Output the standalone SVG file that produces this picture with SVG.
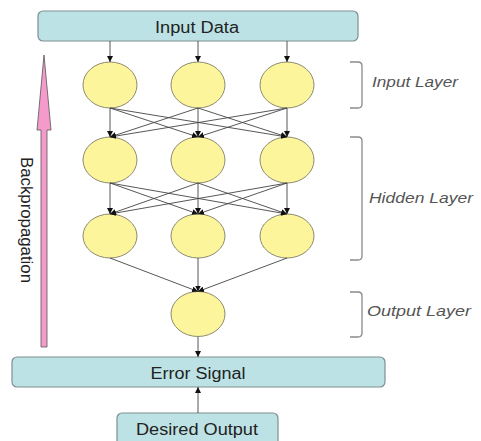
<svg xmlns="http://www.w3.org/2000/svg" width="481" height="441" viewBox="0 0 481 441">
<style>
.box{fill:#bde2e5;stroke:#7d8f92;stroke-width:1.2}
.node{fill:#fcf59b;stroke:#8c8a70;stroke-width:1}
.bt{font-family:"Liberation Sans",Arial,sans-serif;font-size:16px;fill:#222;text-anchor:middle}
.lt{font-family:"Liberation Sans",Arial,sans-serif;font-size:15px;font-style:italic;fill:#555}
.br{fill:none;stroke:#8a8a8a;stroke-width:1.3}
.cn line{stroke:#444;stroke-width:0.9;marker-end:url(#ah)}
</style>
<defs>
<marker id="ah" viewBox="0 0 10 10" refX="10" refY="5" markerWidth="6" markerHeight="6" markerUnits="userSpaceOnUse" orient="auto">
<path d="M0,0 L10,5 L0,10 z" fill="#111"/>
</marker>
</defs>
<rect width="481" height="441" fill="#fff"/>

<g id="backprop">
<path d="M44,55 L51,130 L47,130 L47,347 L41,347 L41,130 L37,130 Z" fill="#f59bcb" stroke="#555" stroke-width="0.8"/>
<text transform="translate(21,220) rotate(90)" class="bt" font-size="15" textLength="126" lengthAdjust="spacingAndGlyphs">Backpropagation</text>
</g>

<g id="input-data">
<rect class="box" x="38" y="11" width="320" height="30" rx="5"/>
<text class="bt" x="197" y="33" textLength="84" lengthAdjust="spacingAndGlyphs">Input Data</text>
</g>

<g id="in1"><ellipse class="node" cx="110" cy="85" rx="27" ry="23"/></g>
<g id="in2"><ellipse class="node" cx="198" cy="85" rx="27" ry="23"/></g>
<g id="in3"><ellipse class="node" cx="287" cy="85" rx="27" ry="23"/></g>
<g id="h1a"><ellipse class="node" cx="110" cy="160" rx="27" ry="23"/></g>
<g id="h1b"><ellipse class="node" cx="198" cy="160" rx="27" ry="23"/></g>
<g id="h1c"><ellipse class="node" cx="287" cy="160" rx="27" ry="23"/></g>
<g id="h2a"><ellipse class="node" cx="110" cy="236" rx="27" ry="22"/></g>
<g id="h2b"><ellipse class="node" cx="198" cy="236" rx="27" ry="22"/></g>
<g id="h2c"><ellipse class="node" cx="287" cy="236" rx="27" ry="22"/></g>
<g id="out"><ellipse class="node" cx="198" cy="314" rx="27" ry="22.5"/></g>

<g id="error-signal">
<rect class="box" x="12" y="357" width="373" height="30" rx="5"/>
<text class="bt" x="198" y="379" textLength="95" lengthAdjust="spacingAndGlyphs">Error Signal</text>
</g>

<g id="desired-output">
<rect class="box" x="117" y="413" width="161" height="34" rx="5"/>
<text class="bt" x="197" y="435" textLength="122" lengthAdjust="spacingAndGlyphs">Desired Output</text>
</g>

<g id="labels">
<path class="br" d="M350,62 L358,62 Q362,62 362,66 L362,104 Q362,108 358,108 L350,108"/>
<text class="lt" x="372" y="87" textLength="86" lengthAdjust="spacingAndGlyphs">Input Layer</text>
<path class="br" d="M350,137 L358,137 Q362,137 362,141 L362,256 Q362,260 358,260 L350,260"/>
<text class="lt" x="369" y="203" textLength="104" lengthAdjust="spacingAndGlyphs">Hidden Layer</text>
<path class="br" d="M350,292 L358,292 Q362,292 362,296 L362,333 Q362,337 358,337 L350,337"/>
<text class="lt" x="367" y="316" textLength="104" lengthAdjust="spacingAndGlyphs">Output Layer</text>
</g>

<g id="connectors" class="cn">
<line x1="110" y1="41" x2="110" y2="62"/>
<line x1="198" y1="41" x2="198" y2="62"/>
<line x1="287" y1="41" x2="287" y2="62"/>

<line x1="110" y1="108" x2="110" y2="137"/>
<line x1="110" y1="108" x2="198" y2="137"/>
<line x1="110" y1="108" x2="287" y2="137"/>
<line x1="198" y1="108" x2="110" y2="137"/>
<line x1="198" y1="108" x2="198" y2="137"/>
<line x1="198" y1="108" x2="287" y2="137"/>
<line x1="287" y1="108" x2="110" y2="137"/>
<line x1="287" y1="108" x2="198" y2="137"/>
<line x1="287" y1="108" x2="287" y2="137"/>

<line x1="110" y1="183" x2="110" y2="214"/>
<line x1="110" y1="183" x2="198" y2="214"/>
<line x1="110" y1="183" x2="287" y2="214"/>
<line x1="198" y1="183" x2="110" y2="214"/>
<line x1="198" y1="183" x2="198" y2="214"/>
<line x1="198" y1="183" x2="287" y2="214"/>
<line x1="287" y1="183" x2="110" y2="214"/>
<line x1="287" y1="183" x2="198" y2="214"/>
<line x1="287" y1="183" x2="287" y2="214"/>

<line x1="110" y1="258" x2="198" y2="291.5"/>
<line x1="198" y1="258" x2="198" y2="291.5"/>
<line x1="287" y1="258" x2="198" y2="291.5"/>

<line x1="198" y1="337" x2="198" y2="357"/>
<line x1="198" y1="413" x2="198" y2="387"/>
</g>
</svg>
